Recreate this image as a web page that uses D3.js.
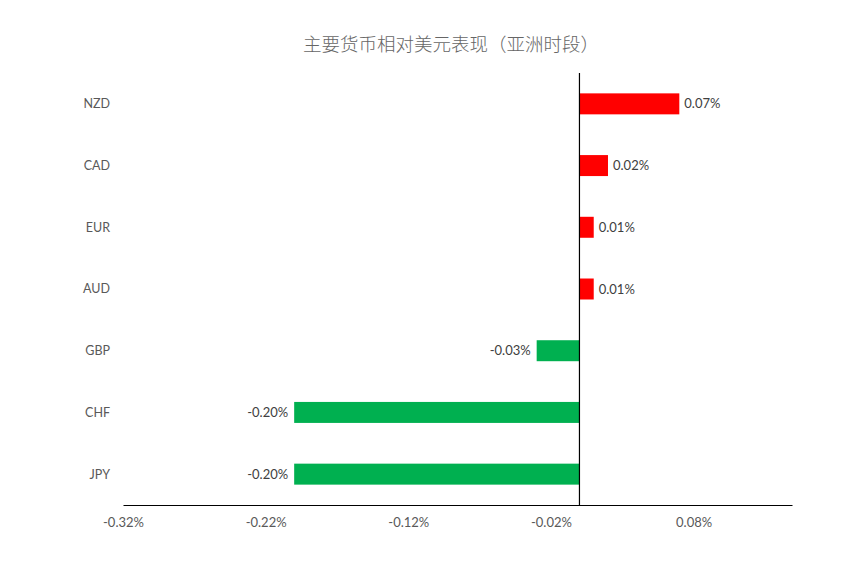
<!DOCTYPE html>
<html><head><meta charset="utf-8">
<script src="https://cdn.jsdelivr.net/npm/d3@7/dist/d3.min.js"></script>
<style>body{margin:0;background:#fff}</style>
</head><body>
<svg id="c" width="849" height="573"></svg>
<script>
const categories = ["NZD","CAD","EUR","AUD","GBP","CHF","JPY"];
const values = [0.07, 0.02, 0.01, 0.01, -0.03, -0.20, -0.20];
const tickValues = [-0.32, -0.22, -0.12, -0.02, 0.08];
const title = "主要货币相对美元表现（亚洲时段）";

const svg = d3.select("#c");
const font = "Lato, 'Open Sans', 'Noto Sans CJK SC', sans-serif";
const x = d3.scaleLinear().domain([-0.32, 0.149]).range([123, 792]);
const y = d3.scaleBand().domain(categories).range([73, 505]).paddingInner(0.66).paddingOuter(0.33);

svg.append("rect").attr("width",849).attr("height",573).attr("fill","#fff");

svg.append("text").attr("x", 451).attr("y", 51).attr("text-anchor","middle")
  .attr("font-family","'Noto Sans CJK SC', sans-serif").attr("font-size",18.5).attr("font-weight",300)
  .attr("fill","#666").text(title);

svg.selectAll("rect.bar").data(values).join("rect").attr("class","bar")
  .attr("x", d => x(Math.min(0,d)))
  .attr("width", d => Math.abs(x(d)-x(0)))
  .attr("y", (d,i) => y(categories[i]))
  .attr("height", y.bandwidth())
  .attr("fill", d => d >= 0 ? "#FF0000" : "#00B050");

svg.selectAll("text.val").data(values).join("text").attr("class","val")
  .attr("x", d => d >= 0 ? x(d)+5 : x(d)-6)
  .attr("y", (d,i) => y(categories[i]) + y.bandwidth()/2)
  .attr("dy","0.35em")
  .attr("text-anchor", d => d >= 0 ? "start" : "end")
  .attr("font-family", font).attr("font-size", 13).attr("fill","#404040")
  .text(d => d.toFixed(2) + "%");

svg.selectAll("text.cat").data(categories).join("text").attr("class","cat")
  .attr("x", 110)
  .attr("y", d => y(d) + y.bandwidth()/2)
  .attr("dy","0.35em").attr("text-anchor","end")
  .attr("font-family", font).attr("font-size", 12.5).attr("fill","#595959")
  .text(d => d);

// x axis
const xa = svg.append("g").attr("transform","translate(0,505)")
  .call(d3.axisBottom(x).tickValues(tickValues).tickSize(0).tickPadding(13)
    .tickFormat(d => d.toFixed(2) + "%"));
xa.select(".domain").attr("stroke","#000").attr("stroke-width",1.2);
xa.selectAll("text").attr("font-family", font).attr("font-size",13).attr("fill","#595959");

// zero line
svg.append("line").attr("x1", x(0)).attr("x2", x(0)).attr("y1", 73).attr("y2", 505)
  .attr("stroke","#000").attr("stroke-width",1.2);
</script>
</body></html>
